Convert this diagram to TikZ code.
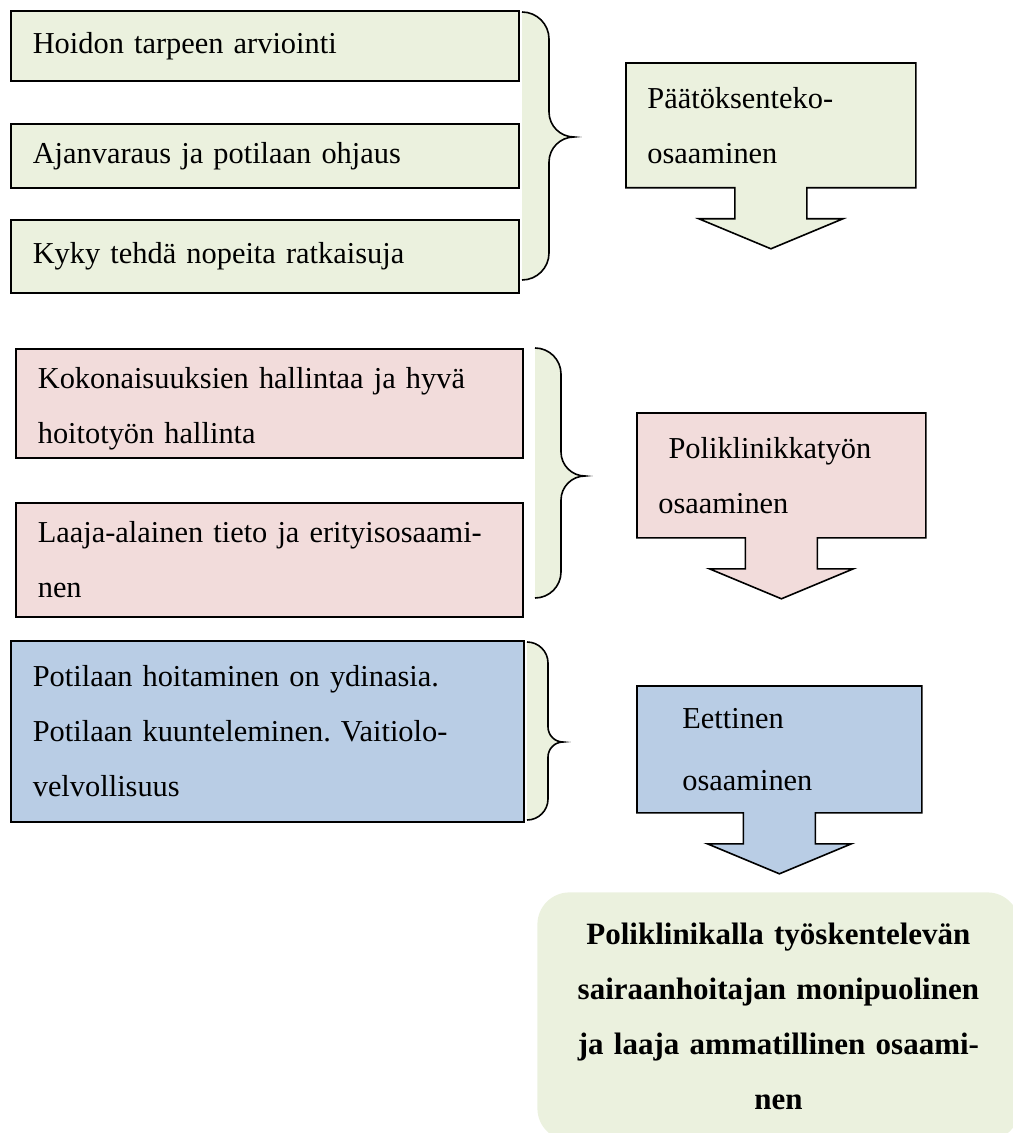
\documentclass[tikz,border=0pt]{standalone}
\usepackage{fontspec}
\setmainfont{Liberation Serif}
\usepackage{tikz}
\usetikzlibrary{backgrounds}
\frenchspacing

\definecolor{vihrea}{HTML}{EBF1DE}
\definecolor{punainen}{HTML}{F2DCDB}
\definecolor{sininen}{HTML}{B9CDE5}

% right brace: start x, stem x, tip x, top, middle, bottom
\newcommand{\groupbrace}[6]{%
  \def\bracepath{(#1,#4)
    .. controls ({#1+0.55*(#2-#1)},#4) and (#2,{#4+0.45*(#2-#1)}) .. (#2,{#4+(#2-#1)})
    -- (#2,{#5-(#3-#2)})
    .. controls (#2,{#5-0.45*(#3-#2)}) and ({#2+0.45*(#3-#2)},#5) .. (#3,#5)
    .. controls ({#2+0.45*(#3-#2)},#5) and (#2,{#5+0.45*(#3-#2)}) .. (#2,{#5+(#3-#2)})
    -- (#2,{#6-(#2-#1)})
    .. controls (#2,{#6-0.45*(#2-#1)}) and ({#1+0.55*(#2-#1)},#6) .. (#1,#6)}%
  \fill[vihrea] \bracepath -- cycle;
  \draw[line width=0.8pt] \bracepath;
}

\begin{document}
\begin{tikzpicture}[
        x=0.5pt, y=-0.5pt,
        every node/.style={font=\fontsize{15.2}{27.5}\selectfont, inner sep=0pt},
        item/.style={draw, line width=0.8pt, anchor=north west, align=left, inner xsep=11pt, text width=232pt},
        callout/.style={anchor=north west, align=left, inner xsep=10.5pt, minimum height=62pt},
        goal/.style={fill=vihrea, rounded corners=16pt, anchor=north west, align=center,
            text width=241pt, minimum height=124pt, font=\fontsize{15.5}{27.5}\selectfont\bfseries}
    ]
    \useasboundingbox (0,0) rectangle (1012,1133);

    % Nodes
    \node[item, fill=vihrea, minimum height=35pt] (hoito) at (10,10) {Hoidon tarpeen arviointi};
    \node[item, fill=vihrea, minimum height=32pt] (ajanvaraus) at (10,123) {Ajanvaraus ja potilaan ohjaus};
    \node[item, fill=vihrea, minimum height=36.5pt] (ratkaisu) at (10,219) {Kyky tehdä nopeita ratkaisuja};
    \node[item, fill=punainen, minimum height=54.5pt, text width=231.5pt, text height=16pt, text depth=31pt]
        (kokonaisuus) at (15,348) {Kokonaisuuksien hallintaa ja hyvä\\hoitotyön hallinta};
    \node[item, fill=punainen, minimum height=57pt, text width=231.5pt] (tieto) at (15,502)
        {Laaja-alainen tieto ja erityisosaami-\\nen};
    \node[item, fill=sininen, minimum height=90.5pt, text width=234.5pt] (potilas) at (10,640)
        {Potilaan hoitaminen on ydinasia.\\Potilaan kuunteleminen. Vaitiolo-\\velvollisuus};

    \node[callout, text width=123.5pt] (paatos) at (626,63) {Päätöksenteko-\\osaaminen};
    \node[callout, text width=123pt] (poli) at (637,413) {\ Poliklinikkatyön\\osaaminen};
    \node[callout, text width=97pt, inner xsep=22.5pt, minimum height=63pt,
        font=\fontsize{15.2}{31}\selectfont] (etiikka) at (637,686) {Eettinen\\osaaminen};

    \node[goal] (osaaminen) at (537,892) {Poliklinikalla työskentelevän\\sairaanhoitajan monipuolinen\\ja laaja ammatillinen osaami-\\nen};

    % Braces
    \groupbrace{522}{549}{574}{12}{137}{280}
    \groupbrace{535}{561}{585}{348}{476}{598}
    \groupbrace{527}{548}{563}{642}{742}{820}

    % Arrows
    \begin{scope}[on background layer]
    \foreach \n/\c in {paatos/vihrea, poli/punainen, etiikka/sininen}
        \filldraw[line width=0.8pt, fill=\c] (\n.north west) -- (\n.north east) -- (\n.south east)
            -- ([xshift=18pt]\n.south) -- ++(0,31) -- ++(36,0) -- ++(-72,30) -- ++(-72,-30)
            -- ++(36,0) -- ++(0,-31) -- (\n.south west) -- cycle;
    \end{scope}
\end{tikzpicture}
\end{document}
